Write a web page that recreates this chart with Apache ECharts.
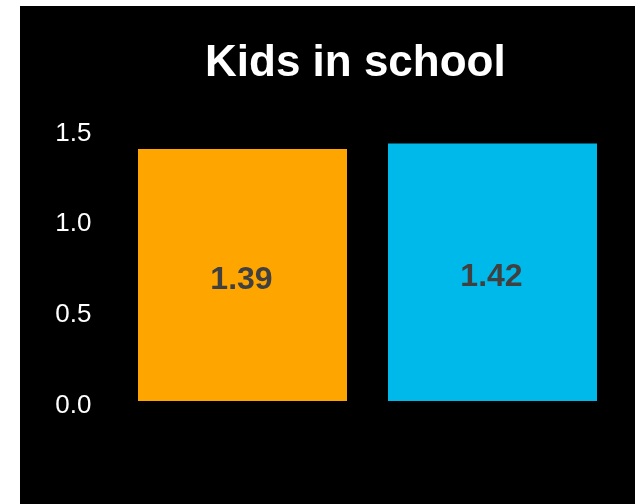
<!DOCTYPE html>
<html>
<head>
<meta charset="utf-8">
<script src="https://cdn.jsdelivr.net/npm/echarts@6/dist/echarts.min.js"></script>
<style>
html,body{margin:0;padding:0;background:#fff;width:635px;height:504px;overflow:hidden;}
#c{position:absolute;left:20px;top:6px;width:615px;height:498px;background:#000;}
</style>
</head>
<body>
<div id="c"></div>
<script>
var titleText = "Kids in school";
var categories = ["A", "B"];
var values = [1.39, 1.42];
var barColors = ["#FFA500", "#00B9EB"];
var yTicks = [0, 0.5, 1.0, 1.5];

var chart = echarts.init(document.getElementById('c'));
chart.setOption({
  backgroundColor: '#000',
  animation: false,
  title: {
    text: titleText,
    left: 180,
    top: 31,
    textStyle: {color: '#fff', fontSize: 44, fontWeight: 'bold', fontFamily: 'Liberation Sans, Arial, sans-serif'}
  },
  grid: {left: 97.5, right: 17.5, top: 123, bottom: 103, containLabel: false},
  xAxis: {
    type: 'category',
    data: categories,
    axisLine: {show: false},
    axisTick: {show: false},
    axisLabel: {show: false},
    splitLine: {show: false}
  },
  yAxis: {
    type: 'value',
    min: yTicks[0],
    max: yTicks[yTicks.length - 1],
    interval: 0.5,
    axisLine: {show: false},
    axisTick: {show: false},
    splitLine: {show: false},
    axisLabel: {
      color: '#fff',
      fontSize: 26,
      margin: 26,
      verticalAlign: 'top',
      lineHeight: 9,
      fontFamily: 'Liberation Sans, Arial, sans-serif',
      formatter: function (v) { return v.toFixed(1); }
    }
  },
  series: [{
    type: 'bar',
    barWidth: 209,
    data: values.map(function (v, i) { return {value: v, itemStyle: {color: barColors[i]}}; }),
    label: {
      show: true,
      position: 'inside',
      offset: [-1, 5],
      color: '#404040',
      fontSize: 32,
      fontWeight: 'bold',
      fontFamily: 'Liberation Sans, Arial, sans-serif',
      formatter: function (p) { return p.value.toFixed(2); }
    }
  }]
});
</script>
</body>
</html>
